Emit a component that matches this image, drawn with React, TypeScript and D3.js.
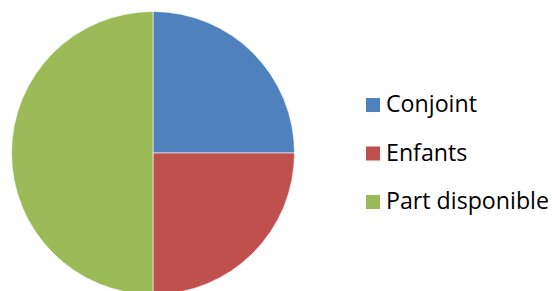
import React from "react";
import * as d3 from "d3";

const categories = ["Conjoint", "Enfants", "Part disponible"];
const values = [25, 25, 50];
const colors = ["#4F81BD", "#C0504D", "#9BBB59"];

const width = 552;
const height = 291;

export default function App() {
  const cx = 153;
  const cy = 153;
  const radius = 141.5;

  const pie = d3.pie<number>().sort(null).value(d => d);
  const arc = d3.arc<d3.PieArcDatum<number>>().innerRadius(0).outerRadius(radius);
  const slices = pie(values);

  // legend rows
  const legendY = d3.scalePoint<string>().domain(categories).range([112, 209]);

  return (
    <svg
      width={width}
      height={height}
      style={{ position: "absolute", left: 0, top: 0, background: "#fff" }}
    >
      <g transform={`translate(${cx},${cy})`}>
        {slices.map((s, i) => (
          <path key={i} d={arc(s) || ""} fill={colors[i]} stroke="#fff" strokeWidth={0.6} />
        ))}
      </g>
      <g fontFamily="'Open Sans', sans-serif" fontSize={23.2} fill="#000">
        {categories.map((c, i) => {
          const y = legendY(c) as number;
          return (
            <g key={c}>
              <rect x={366} y={y - 14} width={14} height={14} fill={colors[i]} />
              <text x={386} y={y}>{c}</text>
            </g>
          );
        })}
      </g>
    </svg>
  );
}
